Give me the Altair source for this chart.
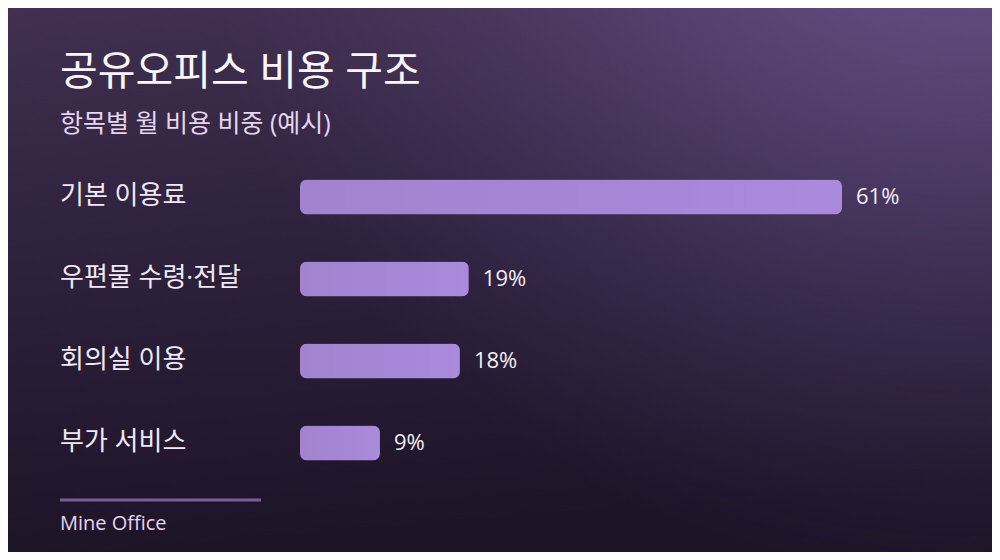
import altair as alt
import pandas as pd

# ---- data ----
categories = ["기본 이용료", "우편물 수령·전달", "회의실 이용", "부가 서비스"]
values = [61, 19, 18, 9]
value_labels = ["61%", "19%", "18%", "9%"]

title_text = "공유오피스 비용 구조"
subtitle_text = "항목별 월 비용 비중 (예시)"
footer_text = "Mine Office"

df = pd.DataFrame({"category": categories, "value": values, "label": value_labels})

W, H = 984, 544
FONT = "Open Sans, Noto Sans CJK KR, sans-serif"

one = pd.DataFrame({"k": [0]})

# ---- background ----
bg_linear = alt.Chart(one).mark_rect(
    fill=alt.LinearGradient(
        gradient="linear", x1=0, y1=0, x2=0.15, y2=1,
        stops=[alt.GradientStop(color="#413050", offset=0),
               alt.GradientStop(color="#2c203b", offset=0.5),
               alt.GradientStop(color="#1e1427", offset=1)],
    )
).encode(x=alt.value(0), x2=alt.value(W), y=alt.value(0), y2=alt.value(H))

bg_glow = alt.Chart(one).mark_rect(
    fill=alt.RadialGradient(
        gradient="radial", x1=0.97, y1=0.0, r1=0, x2=0.97, y2=0.0, r2=0.8,
        stops=[alt.GradientStop(color="rgba(118,94,152,1)", offset=0),
               alt.GradientStop(color="rgba(104,82,138,0.55)", offset=0.45),
               alt.GradientStop(color="rgba(80,60,110,0)", offset=1)],
    )
).encode(x=alt.value(0), x2=alt.value(W), y=alt.value(0), y2=alt.value(H))

# ---- scales ----
x_enc = alt.X("value:Q", scale=alt.Scale(domain=[0, 61], range=[292, 834]), axis=None)
y_enc = alt.Y("category:N", sort=categories,
              scale=alt.Scale(range=[148, 476], paddingInner=0.573, paddingOuter=0.2865),
              axis=None)

base = alt.Chart(df)

bars = base.mark_bar(
    cornerRadius=7,
    fill=alt.LinearGradient(
        gradient="linear", x1=0, y1=0, x2=1, y2=0,
        stops=[alt.GradientStop(color="#a183cf", offset=0),
               alt.GradientStop(color="#a98adc", offset=1)],
    ),
).encode(x=x_enc, y=y_enc)

value_text = base.mark_text(
    align="left", baseline="alphabetic", dx=14, dy=7,
    fontSize=22, font=FONT, color="#f4eff9",
).encode(x=x_enc, y=y_enc, text="label:N")

cat_text = base.mark_text(
    align="left", baseline="alphabetic", dy=7,
    fontSize=26, font=FONT, color="#f1e9f6",
).encode(x=alt.value(52), y=y_enc, text="category:N")

title = alt.Chart(pd.DataFrame({"t": [title_text]})).mark_text(
    align="left", baseline="alphabetic", fontSize=41, font=FONT, color="#faf6fc",
).encode(x=alt.value(52), y=alt.value(77), text="t:N")

subtitle = alt.Chart(pd.DataFrame({"t": [subtitle_text]})).mark_text(
    align="left", baseline="alphabetic", fontSize=25, font=FONT, color="#e6d6ef",
).encode(x=alt.value(52), y=alt.value(124), text="t:N")

footer_rule = alt.Chart(one).mark_rule(color="#7a5c9a", strokeWidth=3).encode(
    x=alt.value(52), x2=alt.value(253), y=alt.value(492)
)

footer = alt.Chart(pd.DataFrame({"t": [footer_text]})).mark_text(
    align="left", baseline="alphabetic", fontSize=20, font=FONT, color="#e6d4ef",
).encode(x=alt.value(52), y=alt.value(522), text="t:N")

chart = alt.layer(
    bg_linear, bg_glow, bars, value_text, cat_text, title, subtitle, footer_rule, footer
).properties(
    width=W, height=H, padding=0, autosize="none", background="#1e1427"
).configure_view(stroke=None)

chart.save("out.html", embed_options={"renderer": "svg", "actions": False})
